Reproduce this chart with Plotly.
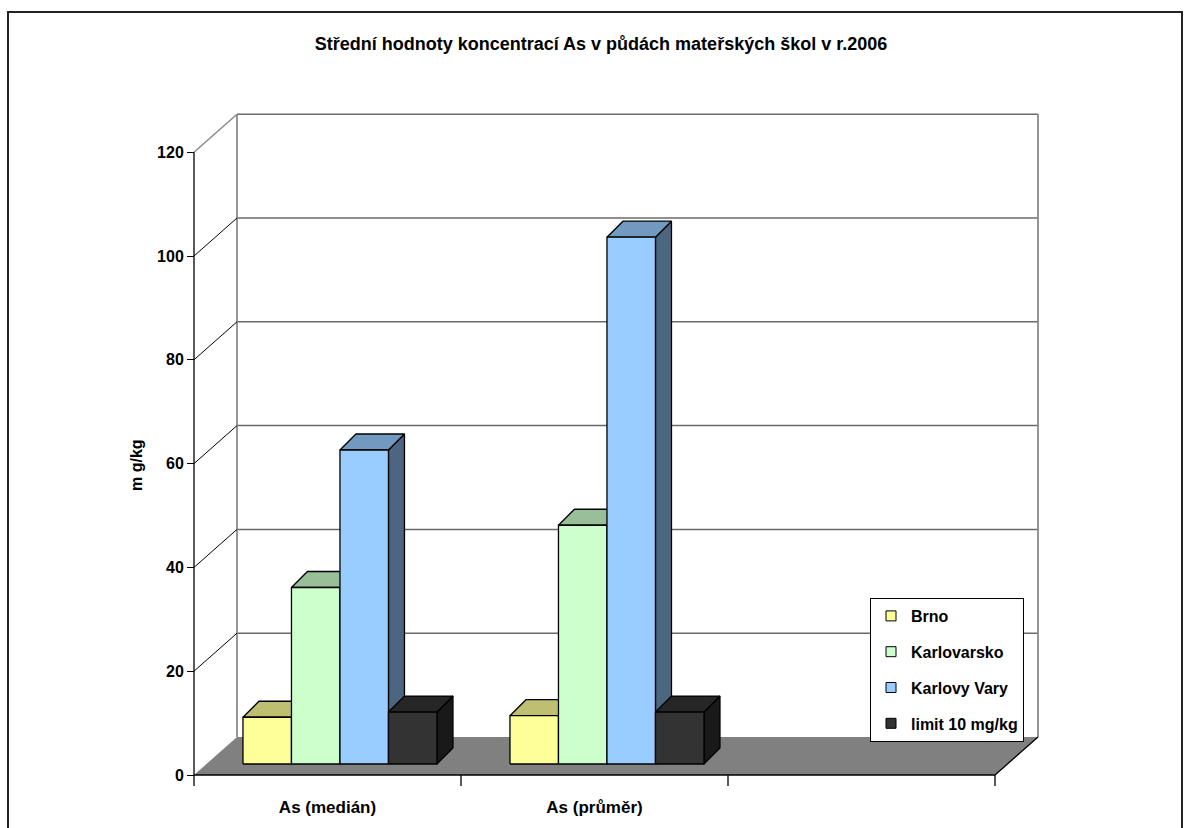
import plotly.graph_objects as go

# ---------------- data ----------------
categories = ["As (medián)", "As (průměr)", ""]
series_names = ["Brno", "Karlovarsko", "Karlovy Vary", "limit 10 mg/kg"]
brno = [9.0, 9.3]
karlovarsko = [34.0, 46.0]
karlovy_vary = [60.5, 101.5]
limit_10 = [10.0, 10.0]
y_ticks = [0, 20, 40, 60, 80, 100, 120]
front_colors = ["#FFFF99", "#CCFFCC", "#99CCFF", "#333333"]

series_values = [brno, karlovarsko, karlovy_vary, limit_10]

# ---------------- geometry ----------------
W, H = 1189, 828
U0, V0 = 194, 775          # pixel position of (u=0, v=0)
PXU, PXV = 267.0, 5.19      # pixels per category unit / per value unit
XD = (186, 1048)            # x domain in px
YD = (105, 795)             # y domain in px (top, bottom)

x_range = [(XD[0] - U0) / PXU, (XD[1] - U0) / PXU]
y_range = [(V0 - YD[1]) / PXV, (V0 - YD[0]) / PXV]

DU, DV = 43 / PXU, 38 / PXV            # wall depth
FU, FV = 0.29 * DU, 0.29 * DV           # bar front-face depth
EU, EV = 16 / PXU, 16 / PXV             # bar extrusion
BW = 48.5 / PXU                          # bar width
XT = 11 / PXV                            # category tick length

n_cat = len(categories)
vmax = y_ticks[-1]
FONT = "Liberation Sans, Arial, sans-serif"


def shade(hx, f):
    hx = hx.lstrip("#")
    r, g, b = (int(hx[i:i + 2], 16) for i in (0, 2, 4))
    return "#%02X%02X%02X" % (int(r * f), int(g * f), int(b * f))


def segs(pairs):
    xs, ys = [], []
    for (a, b) in pairs:
        xs += [a[0], b[0], None]
        ys += [a[1], b[1], None]
    return xs, ys


fig = go.Figure()


def add_lines(pairs, color, width):
    xs, ys = segs(pairs)
    fig.add_trace(go.Scatter(x=xs, y=ys, mode="lines",
                             line=dict(color=color, width=width),
                             hoverinfo="skip", showlegend=False))


def add_poly(polys, fill, lw=1.3, lc="black"):
    xs, ys = [], []
    for p in polys:
        for (a, b) in p + [p[0]]:
            xs.append(a)
            ys.append(b)
        xs.append(None)
        ys.append(None)
    fig.add_trace(go.Scatter(x=xs, y=ys, mode="lines", fill="toself",
                             fillcolor=fill, line=dict(color=lc, width=lw),
                             hoverinfo="skip", showlegend=False))


GRID = "#6A6A6A"
# back wall grid lines and edges
add_lines([((DU, t + DV), (n_cat + DU, t + DV)) for t in y_ticks[1:]], GRID, 1.5)
add_lines([((DU, DV), (DU, vmax + DV)), ((n_cat + DU, DV), (n_cat + DU, vmax + DV))], "#8A8A8A", 1.8)
# side wall diagonals
add_lines([((0, t), (DU, t + DV)) for t in y_ticks[1:-1]], "black", 1)
add_lines([((0, vmax), (DU, vmax + DV))], "#8A8A8A", 1.5)

# floor
add_poly([[(0, 0), (n_cat, 0), (n_cat + DU, DV), (DU, DV)]], "#808080", lw=0, lc="rgba(0,0,0,0)")
add_lines([((0, 0), (n_cat, 0)), ((n_cat, 0), (n_cat + DU, DV))], "black", 1.3)

# category ticks and front value axis
add_lines([((u, 0), (u, -XT)) for u in range(1, n_cat + 1)], "black", 1.3)
add_lines([((0, -XT), (0, vmax))], "black", 1.3)

# bars (drawn left to right so each covers the previous one's side)
gap = (1 - len(series_values) * BW) / 2
for s, vals in enumerate(series_values):
    col = front_colors[s]
    sides, tops, fronts = [], [], []
    for c, v in enumerate(vals):
        x0 = c + gap + FU + s * BW
        x1 = x0 + BW
        y0 = FV
        y1 = FV + v
        fronts.append([(x0, y0), (x1, y0), (x1, y1), (x0, y1)])
        tops.append([(x0, y1), (x1, y1), (x1 + EU, y1 + EV), (x0 + EU, y1 + EV)])
        sides.append([(x1, y0), (x1 + EU, y0 + EV), (x1 + EU, y1 + EV), (x1, y1)])
    add_poly(sides, shade(col, 0.5))
    add_poly(tops, shade(col, 0.75))
    add_poly(fronts, col)

# legend entries
for s, name in enumerate(series_names):
    fig.add_trace(go.Scatter(x=[None], y=[None], mode="markers", name=name,
                             legendgroup=name,
                             marker=dict(symbol="square", size=10, color=front_colors[s],
                                         line=dict(color="black", width=1))))

fig.update_layout(
    width=W, height=H, autosize=False,
    margin=dict(l=0, r=0, t=0, b=0, pad=0),
    paper_bgcolor="white", plot_bgcolor="rgba(0,0,0,0)",
    font=dict(family=FONT, color="black"),
    title=dict(text="Střední hodnoty koncentrací As v půdách mateřských škol v r.2006",
               x=601 / W, y=1 - 44 / H, xref="container", yref="container",
               xanchor="center", yanchor="middle",
               font=dict(family=FONT, size=18, weight="bold", color="black")),
    xaxis=dict(domain=[XD[0] / W, XD[1] / W], range=x_range, showgrid=False,
               zeroline=False, showline=False, ticks="",
               tickmode="array", tickvals=[i + 0.5 for i in range(n_cat)],
               ticktext=categories,
               tickfont=dict(family=FONT, size=17, weight="bold", color="black"),
               fixedrange=True),
    yaxis=dict(domain=[1 - YD[1] / H, 1 - YD[0] / H], range=y_range,
               anchor="free", position=U0 / W, side="left",
               showgrid=False, zeroline=False, showline=False,
               ticks="outside", ticklen=7, tickwidth=1.3, tickcolor="black",
               tickmode="array", tickvals=y_ticks,
               tickfont=dict(family=FONT, size=16, weight="bold", color="black"),
               fixedrange=True),
    legend=dict(x=870 / W, y=1 - 598 / H, xanchor="left", yanchor="top",
                bgcolor="white", bordercolor="black", borderwidth=1,
                tracegroupgap=12,
                font=dict(family=FONT, size=16, weight="bold", color="black")),
    annotations=[dict(text="m g/kg", x=136 / W, y=1 - 465 / H, xref="paper", yref="paper",
                      showarrow=False, textangle=-90, xanchor="center", yanchor="middle",
                      font=dict(family=FONT, size=16, weight="bold", color="black"))],
    shapes=[dict(type="rect", xref="paper", yref="paper",
                 x0=8 / W, x1=1182 / W, y0=-0.05, y1=1 - 12 / H,
                 line=dict(color="#222222", width=2), layer="below")],
    showlegend=True,
)

fig.write_html("out.html")
